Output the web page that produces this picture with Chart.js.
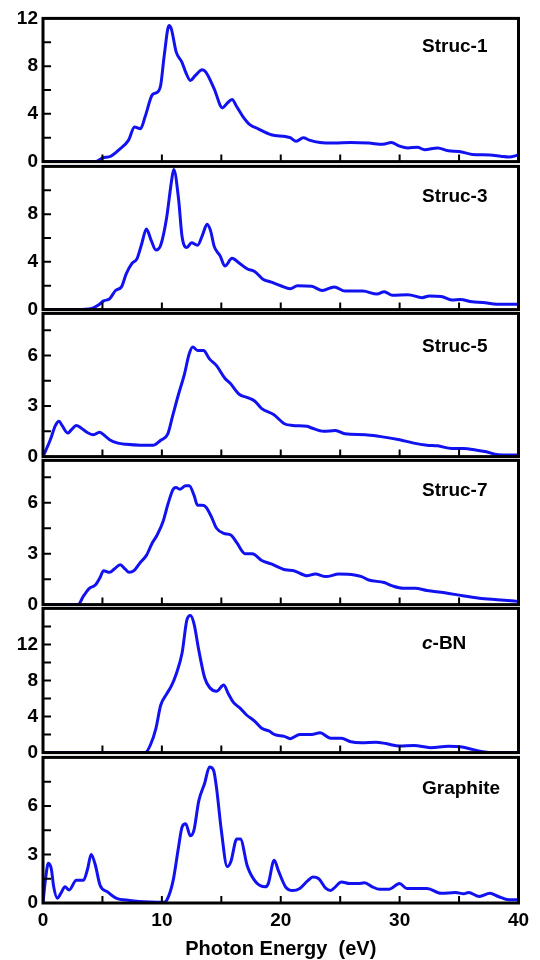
<!DOCTYPE html>
<html>
<head>
<meta charset="utf-8">
<script src="https://cdn.jsdelivr.net/npm/chart.js@4.4.1/dist/chart.umd.min.js"></script>
<style>
  html, body { margin: 0; padding: 0; background: #fff; }
  body { width: 540px; height: 960px; position: relative; overflow: hidden; }
  .panel { position: absolute; left: 0; width: 540px; }
  .panel canvas { display: block; }
</style>
</head>
<body>
<script>
// [photon energy (eV), intensity]
const struc1 = [[0,0],[4.4,0],[5.0,0.3],[5.7,0.45],[6.4,1.0],[7.2,1.8],[7.7,2.9],[8.2,2.75],[8.6,3.8],[9.2,5.6],[9.6,5.8],[9.9,6.4],[10.2,8.9],[10.6,11.4],[10.8,11.1],[11.2,9.2],[11.7,8.3],[12.0,7.5],[12.4,6.8],[12.8,7.2],[13.4,7.7],[13.7,7.5],[14.4,6.1],[15.1,4.5],[15.5,4.9],[15.9,5.2],[16.3,4.6],[16.8,3.8],[17.4,3.1],[18.1,2.75],[19.2,2.25],[20.4,2.1],[20.8,2.0],[21.3,1.7],[21.9,2.0],[22.4,1.8],[23.3,1.6],[24.5,1.55],[25.9,1.6],[27.4,1.55],[28.6,1.45],[29.3,1.6],[30.0,1.3],[30.7,1.15],[31.5,1.2],[32.1,1.0],[33.2,1.15],[34.1,0.9],[35.0,0.85],[36.1,0.6],[37.6,0.55],[38.5,0.45],[39.2,0.38],[40,0.55]];
const struc3 = [[0,0],[2.9,0],[4.1,0.1],[4.7,0.4],[5.1,0.73],[5.6,0.9],[6.1,1.6],[6.6,1.9],[7.0,3.0],[7.5,3.9],[7.9,4.25],[8.3,5.5],[8.7,6.75],[9.1,5.8],[9.5,5.0],[9.9,5.4],[10.4,7.7],[10.8,10.7],[11.0,11.75],[11.4,9.3],[11.7,6.1],[12.1,5.2],[12.5,5.6],[13.0,5.4],[13.4,6.2],[13.8,7.15],[14.1,6.6],[14.4,5.3],[14.9,4.5],[15.3,3.65],[15.9,4.3],[16.5,3.9],[17.2,3.4],[17.8,3.2],[18.5,2.55],[19.2,2.3],[20.0,2.0],[20.8,1.75],[21.4,2.0],[22.6,1.95],[23.5,1.6],[24.5,1.9],[25.4,1.55],[26.9,1.55],[28.1,1.3],[28.7,1.5],[29.4,1.2],[30.7,1.25],[31.9,1.0],[32.5,1.15],[33.5,1.1],[34.4,0.8],[35.1,0.85],[36.1,0.65],[37.0,0.6],[38.2,0.45],[40,0.45]];
const struc5 = [[0,0],[0.6,0.97],[1.05,1.85],[1.35,2.1],[1.6,1.85],[2.1,1.4],[2.4,1.6],[2.8,1.85],[3.2,1.7],[3.8,1.4],[4.25,1.3],[4.75,1.45],[5.1,1.3],[5.6,1.0],[6.3,0.8],[7.0,0.73],[8.2,0.68],[9.3,0.68],[9.9,0.97],[10.5,1.35],[10.9,2.4],[11.4,3.7],[11.9,4.9],[12.3,6.1],[12.6,6.5],[13.0,6.3],[13.5,6.3],[14.0,5.8],[14.6,5.4],[15.3,4.65],[15.75,4.35],[16.5,3.7],[17.2,3.5],[17.8,3.3],[18.4,2.85],[19.4,2.5],[20.3,1.95],[21.0,1.85],[22.2,1.8],[22.6,1.7],[23.6,1.5],[24.6,1.55],[25.4,1.35],[27.1,1.3],[28.3,1.2],[30.0,1.0],[31.2,0.8],[32.3,0.68],[33.2,0.64],[34.4,0.48],[35.4,0.48],[36.4,0.39],[37.3,0.29],[38.0,0.14],[38.7,0.1],[40,0.1]];
const struc7 = [[0,0],[2.95,0],[3.4,0.5],[3.9,0.96],[4.4,1.15],[4.8,1.6],[5.1,2.0],[5.6,1.9],[6.0,2.1],[6.5,2.35],[6.9,2.1],[7.25,1.9],[7.65,2.0],[8.2,2.5],[8.7,2.9],[9.2,3.65],[9.6,4.1],[10.1,4.9],[10.5,5.9],[10.95,6.8],[11.2,6.9],[11.5,6.8],[12.0,7.0],[12.3,7.0],[12.7,6.45],[13.0,5.85],[13.4,5.85],[13.7,5.75],[14.15,5.2],[14.6,4.5],[15.2,4.2],[15.8,4.1],[16.3,3.65],[17.0,3.0],[17.6,3.0],[18.4,2.6],[19.2,2.4],[20.4,2.05],[21.1,2.0],[22.2,1.7],[22.9,1.8],[23.8,1.65],[24.9,1.8],[26.2,1.75],[26.8,1.65],[27.4,1.45],[28.7,1.3],[29.4,1.1],[30.3,0.96],[31.3,0.96],[32.3,0.83],[33.8,0.7],[35.3,0.52],[36.7,0.38],[38.2,0.29],[40,0.19]];
const cBN = [[0,0],[8.6,0],[9.05,0.9],[9.5,2.7],[9.9,5.25],[10.4,6.5],[10.8,7.4],[11.2,8.7],[11.7,11.05],[12.1,14.7],[12.4,15.2],[12.7,14.3],[13.1,11.4],[13.6,8.3],[14.0,7.25],[14.6,6.8],[15.2,7.5],[15.6,6.5],[16.0,5.6],[16.6,4.9],[17.1,4.2],[17.8,3.5],[18.4,2.7],[19.0,2.4],[19.5,2.0],[20.3,1.8],[20.8,1.55],[21.6,2.0],[22.6,2.0],[23.3,2.2],[24.2,1.6],[25.1,1.6],[25.9,1.2],[26.8,1.1],[28.0,1.15],[28.85,1.0],[30.0,0.72],[31.2,0.8],[32.6,0.55],[34.1,0.7],[35.25,0.62],[36.1,0.36],[37.0,0.1],[37.9,0],[40,0]];
const graphite = [[0,0],[0.2,1.4],[0.45,2.45],[0.7,2.1],[0.9,1.0],[1.2,0.3],[1.5,0.6],[1.85,1.0],[2.2,0.8],[2.8,1.4],[3.4,1.4],[3.75,2.1],[4.05,3.0],[4.4,2.35],[4.8,1.1],[5.4,0.7],[6.15,0.3],[7.3,0.16],[9.05,0.06],[10.2,0.04],[10.5,0.3],[10.95,1.4],[11.4,3.45],[11.7,4.7],[12.0,4.9],[12.4,4.15],[12.7,4.5],[13.1,6.3],[13.6,7.4],[14.0,8.4],[14.35,8.2],[14.6,7.1],[15.0,4.5],[15.5,2.25],[15.8,2.55],[16.3,3.95],[16.6,3.95],[17.2,2.25],[17.9,1.3],[18.7,1.0],[18.95,1.2],[19.45,2.65],[19.8,2.0],[20.4,1.0],[21.0,0.77],[21.6,0.9],[22.3,1.4],[22.7,1.6],[23.2,1.5],[23.8,0.9],[24.2,0.77],[24.6,1.0],[25.1,1.3],[25.8,1.2],[26.5,1.2],[27.05,1.25],[27.7,1.0],[28.3,0.85],[29.1,0.85],[30.0,1.2],[30.6,0.9],[31.5,0.9],[32.3,0.9],[33.5,0.6],[34.7,0.65],[35.4,0.57],[35.8,0.65],[36.7,0.4],[37.6,0.6],[38.3,0.4],[39.2,0.2],[40,0.2]];

const series = [struc1, struc3, struc5, struc7, cBN, graphite];
const panelNames = ['Struc-1', 'Struc-3', 'Struc-5', 'Struc-7', 'c-BN', 'Graphite'];
const yMax = [12, 12, 8.5, 8.5, 16, 9];
const yTickLabels = [[0, 4, 8, 12], [0, 4, 8], [0, 3, 6], [0, 3, 6], [0, 4, 8, 12], [0, 3, 6]];
const yTickMarks = [[2, 4, 6, 8, 10], [2, 4, 6, 8, 10], [1.5, 3, 4.5, 6, 7.5], [1.5, 3, 4.5, 6, 7.5], [2, 4, 6, 8, 10, 12, 14], [1.5, 3, 4.5, 6, 7.5]];
const xTickLabels = [0, 10, 20, 30, 40];
const xTickMarks = [5, 10, 15, 20, 25, 30, 35];

// page layout (px)
const edges = [16.5, 164, 311.5, 458.5, 606.5, 755, 903];
const nameBase = [52, 202, 352, 496, 649, 794];
const FONT = "'Liberation Sans', Arial, Helvetica, sans-serif";
const BLUE = 'rgb(18,18,240)';

Chart.defaults.font.family = FONT;
Chart.defaults.font.size = 19;
Chart.defaults.font.weight = 'bold';
Chart.defaults.color = '#000';

const framePlugin = {
  id: 'frame',
  afterDatasetsDraw(chart, args, opts) {
    const ctx = chart.ctx, a = chart.chartArea;
    const x = chart.scales.x, y = chart.scales.y;
    const i = opts.index;
    ctx.save();
    ctx.strokeStyle = '#000';
    ctx.lineWidth = 2;
    ctx.beginPath();
    xTickMarks.forEach(v => {
      const px = x.getPixelForValue(v);
      ctx.moveTo(px, a.bottom);
      ctx.lineTo(px, a.bottom - 7);
    });
    yTickMarks[i].forEach(v => {
      const py = y.getPixelForValue(v);
      ctx.moveTo(a.left, py);
      ctx.lineTo(a.left + 8, py);
    });
    ctx.stroke();
    ctx.lineWidth = 3;
    ctx.strokeRect(a.left, a.top, a.right - a.left, a.bottom - a.top);

    // panel name
    ctx.fillStyle = '#000';
    ctx.textAlign = 'left';
    ctx.textBaseline = 'alphabetic';
    let nx = 422;
    const ny = nameBase[i] - opts.offsetTop;
    const name = panelNames[i];
    if (name.startsWith('c-')) {
      ctx.font = 'italic bold 19px ' + FONT;
      ctx.fillText('c', nx, ny);
      nx += ctx.measureText('c').width;
      ctx.font = 'bold 19px ' + FONT;
      ctx.fillText(name.slice(1), nx, ny);
    } else {
      ctx.font = 'bold 19px ' + FONT;
      ctx.fillText(name, nx, ny);
    }
    ctx.restore();
  }
};

function makePanel(i) {
  const top = edges[i], bottom = edges[i + 1];
  const last = i === series.length - 1;
  const cTop = Math.max(0, Math.floor(top) - 14);
  const cBot = last ? 960 : Math.ceil(bottom) + 14;

  const wrap = document.createElement('div');
  wrap.className = 'panel';
  wrap.style.top = cTop + 'px';
  wrap.style.height = (cBot - cTop) + 'px';
  const cv = document.createElement('canvas');
  cv.width = 540;
  cv.height = cBot - cTop;
  wrap.appendChild(cv);
  document.body.appendChild(wrap);

  new Chart(cv, {
    type: 'line',
    data: {
      datasets: [{
        label: panelNames[i],
        data: series[i].map(p => ({ x: p[0], y: p[1] })),
        borderColor: BLUE,
        borderWidth: 3,
        pointRadius: 0,
        fill: false,
        cubicInterpolationMode: 'monotone'
      }]
    },
    options: {
      responsive: false,
      animation: false,
      layout: {
        padding: { top: top - cTop, bottom: last ? 0 : cBot - bottom, left: 0, right: 21.5 }
      },
      scales: {
        x: {
          type: 'linear',
          min: 0,
          max: 40,
          display: last,
          afterBuildTicks: s => { s.ticks = xTickLabels.map(v => ({ value: v })); },
          afterFit: s => { s.height = last ? 57 : 0; },
          grid: { display: false, drawTicks: false },
          border: { display: false },
          ticks: { padding: 6, maxRotation: 0, autoSkip: false },
          title: {
            display: last,
            text: 'Photon Energy  (eV)',
            font: { size: 20, weight: 'bold', lineHeight: 1 },
            padding: { top: 0, bottom: 1 }
          }
        },
        y: {
          type: 'linear',
          min: 0,
          max: yMax[i],
          afterBuildTicks: s => { s.ticks = yTickLabels[i].map(v => ({ value: v })); },
          afterFit: s => { s.width = 43; },
          grid: { display: false, drawTicks: false },
          border: { display: false },
          ticks: { padding: 5, autoSkip: false }
        }
      },
      plugins: {
        legend: { display: false },
        tooltip: { enabled: false },
        frame: { index: i, offsetTop: cTop }
      }
    },
    plugins: [framePlugin]
  });
}

for (let i = 0; i < series.length; i++) makePanel(i);
</script>
</body>
</html>
